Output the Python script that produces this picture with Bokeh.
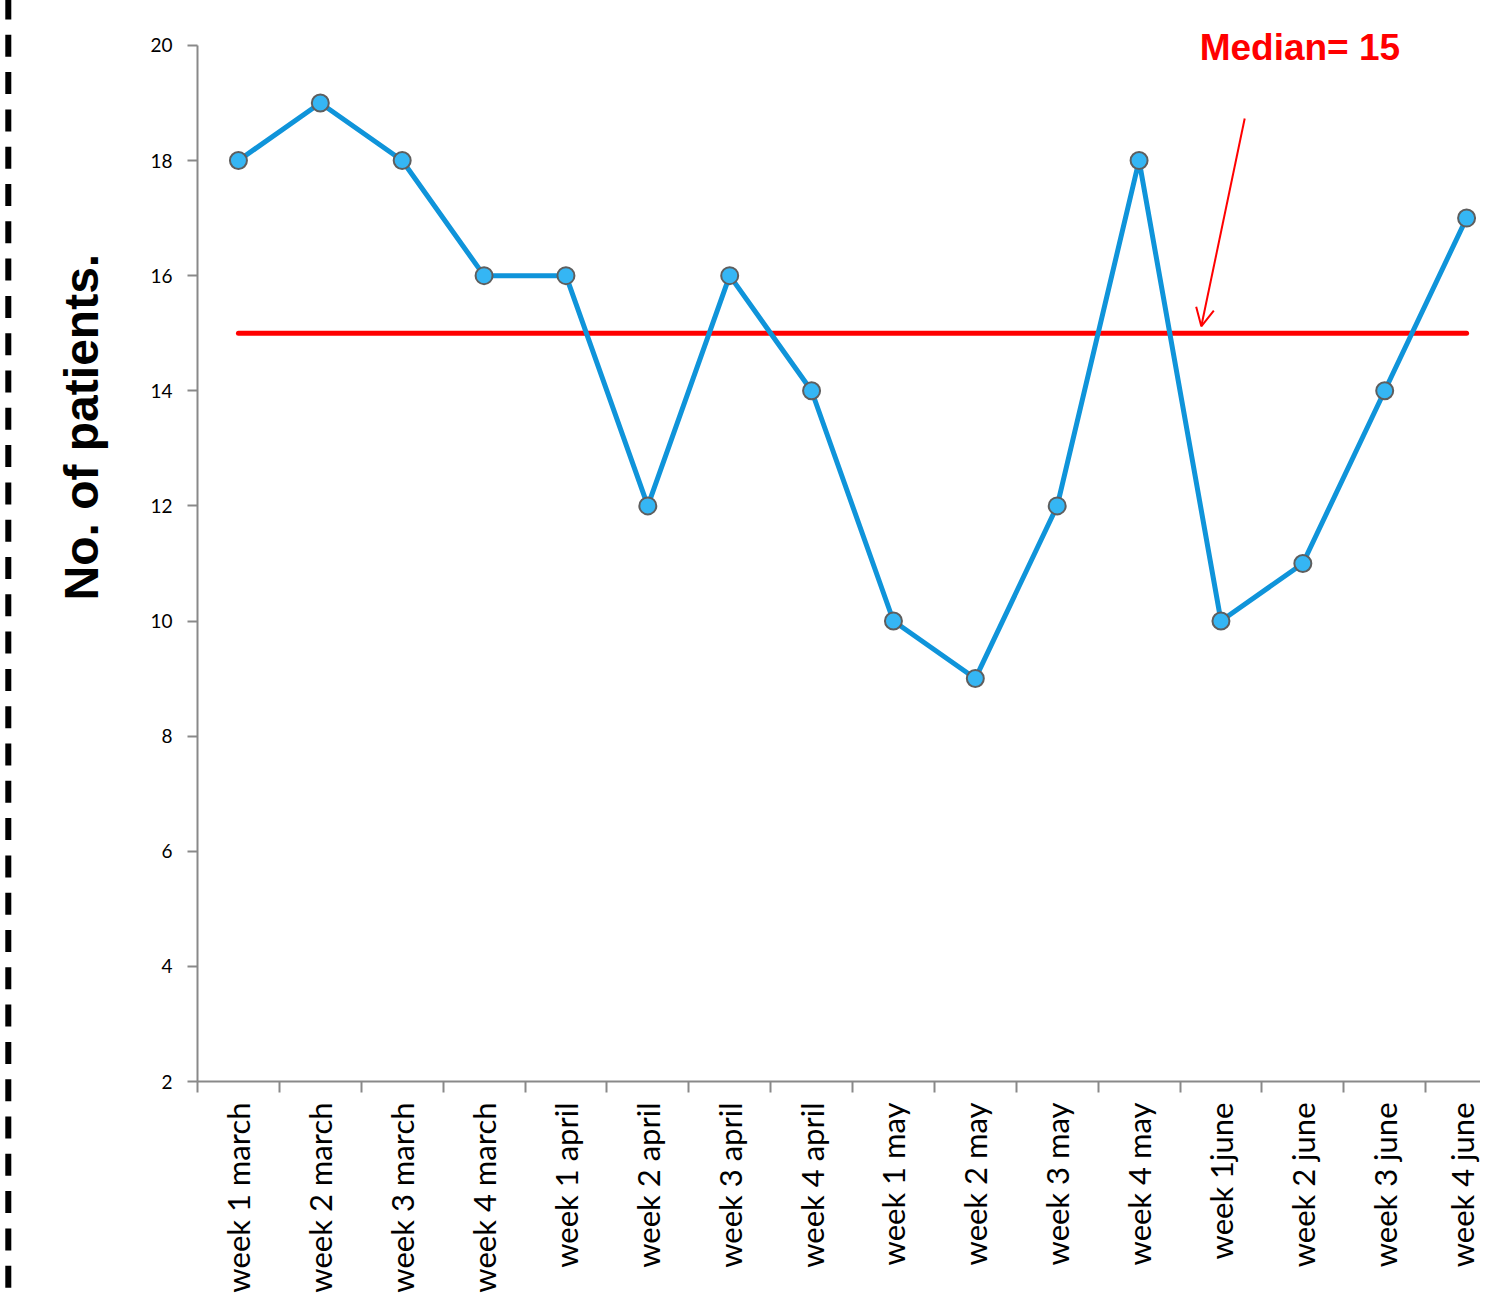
from math import pi
from bokeh.plotting import figure
from bokeh.layouts import row
from bokeh.models import (FixedTicker, Range1d, Label, Arrow, OpenHead, ColumnDataSource,
                          Title, Div)
from bokeh.embed import file_html
from bokeh.resources import INLINE

categories = ["week 1 march", "week 2 march", "week 3 march", "week 4 march",
              "week 1 april", "week 2 april", "week 3 april", "week 4 april",
              "week 1 may", "week 2 may", "week 3 may", "week 4 may",
              "week 1june", "week 2 june", "week 3 june", "week 4 june"]
patients = [18, 19, 18, 16, 16, 12, 16, 14, 10, 9, 12, 18, 10, 11, 14, 17]
median_value = 15
y_ticks = [2, 4, 6, 8, 10, 12, 14, 16, 18, 20]

positions = list(range(len(categories)))

H = 1296
LEFT_W = 12
MAIN_W = 1480 - LEFT_W

# ---- dashed slide border on the far left ----
svg = (f'<svg width="{LEFT_W}" height="{H}" xmlns="http://www.w3.org/2000/svg" '
       f'style="display:block">'
       f'<line x1="8.3" y1="-2.5" x2="8.3" y2="{H}" stroke="black" stroke-width="6" '
       f'stroke-dasharray="22 15.3"/></svg>')
strip = Div(text=svg, width=LEFT_W, height=H, margin=0,
            styles={"line-height": "0", "padding": "0"})

# ---- main chart ----
p = figure(width=MAIN_W, height=H, output_backend="svg", toolbar_location=None,
           x_range=Range1d(-0.5, 15.17), y_range=Range1d(2, 20.78),
           min_border_left=197 - LEFT_W, min_border_top=0, min_border_right=0,
           min_border_bottom=H - 1081)
p.outline_line_color = None
p.xgrid.visible = False
p.ygrid.visible = False

axis_gray = "#898989"
# x axis: ticks at category boundaries, labels at category centres
xa = p.xaxis[0]
xa.ticker = FixedTicker(ticks=positions, minor_ticks=[i - 0.5 for i in range(len(categories) + 1)])
xa.major_label_overrides = {i: c for i, c in zip(positions, categories)}
xa.major_label_orientation = pi / 2
xa.major_tick_out = 0
xa.major_tick_in = 0
xa.minor_tick_out = 11
xa.minor_tick_in = 0
xa.minor_tick_line_color = axis_gray
xa.minor_tick_line_width = 2
xa.axis_line_color = axis_gray
xa.axis_line_width = 2
xa.major_label_text_font = "Lato"
xa.major_label_text_font_size = "31px"
xa.major_label_text_color = "black"
xa.major_label_standoff = 10

# y axis
ya = p.yaxis[0]
ya.ticker = FixedTicker(ticks=y_ticks, minor_ticks=[])
ya.bounds = (2, 20)
ya.major_tick_out = 10
ya.major_tick_in = 0
ya.major_tick_line_color = axis_gray
ya.major_tick_line_width = 2
ya.axis_line_color = axis_gray
ya.axis_line_width = 2
ya.major_label_text_font = "Lato"
ya.major_label_text_font_size = "19px"
ya.major_label_text_color = "black"
ya.major_label_standoff = 15

p.add_layout(Title(text="No. of patients.", align="left", offset=481, standoff=80,
                   text_font="Liberation Sans", text_font_style="bold",
                   text_font_size="48px", text_color="black"), "left")

# median line
p.line(x=[positions[0], positions[-1]], y=[median_value, median_value],
       line_color="#FF0000", line_width=5, line_cap="round")

# series
src = ColumnDataSource(dict(x=positions, y=patients))
p.line("x", "y", source=src, line_color="#0F94DA", line_width=5, line_join="round")
p.scatter("x", "y", source=src, size=17, fill_color="#35B6F4",
          line_color="#5E5E5E", line_width=2)

# annotation
p.add_layout(Label(x=11.74, y=19.965, text="Median= 15", text_font="Liberation Sans",
                   text_font_style="bold", text_font_size="37px", text_color="#FF0000",
                   text_baseline="middle"))
p.add_layout(Arrow(x_start=12.29, y_start=18.73, x_end=11.76, y_end=15.12,
                   line_color="#FF0000", line_width=2,
                   end=OpenHead(size=18, line_color="#FF0000", line_width=2)))

layout = row(strip, p, spacing=0)
open("out.html", "w").write(file_html(layout, INLINE))
